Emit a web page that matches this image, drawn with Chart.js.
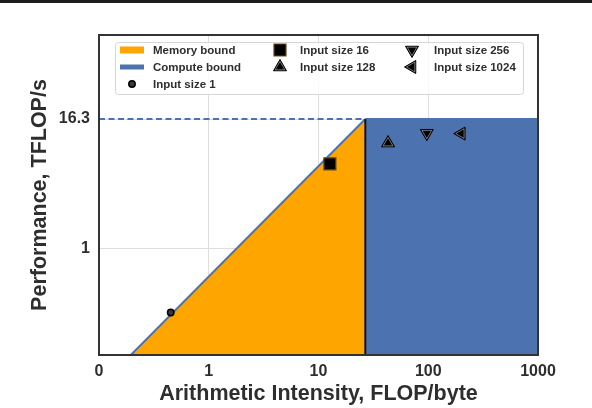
<!DOCTYPE html>
<html>
<head>
<meta charset="utf-8">
<script src="https://cdn.jsdelivr.net/npm/chart.js@4.4.1/dist/chart.umd.min.js"></script>
<style>
  html, body { margin: 0; padding: 0; background: #fff; }
  canvas { display: block; }
</style>
</head>
<body>
<canvas id="roofline" width="592" height="408"></canvas>
<script>
// ==========================
// DATA
// ==========================
const peakPerf = 16.3;                       // TFLOP/s
const ridgeIntensity = 26.7;                 // FLOP/byte
const memoryRoof = [[0.195, 0.1], [26.7, 16.3]];
const computeRoof = [[26.7, 16.3], [1000, 16.3]];
const peakDash = [[0.1, 16.3], [26.7, 16.3]];
const ridgeLine = [[26.7, 0.1], [26.7, 16.3]];

const inputLabels = ['Input size 1', 'Input size 16', 'Input size 128', 'Input size 256', 'Input size 1024'];
const inputIntensity = [0.45, 12.7, 43, 97, 200];
const inputPerf = [0.25, 6.2, 9.7, 12.0, 11.9];

const xTickValues = [0.1, 1, 10, 100, 1000];
const xTickLabels = ['0', '1', '10', '100', '1000'];
const yTickValues = [1, 16.3];
const yTickLabels = ['1', '16.3'];

// ==========================
// STYLES
// ==========================
const ORANGE = '#FFA500';
const BLUE = '#4C72B0';
const TEXT = '#2e2e2e';
const FONT = "'Liberation Sans', Arial, sans-serif";

// inner: thin light outline drawn inside the black marker (like the reference)
const markerStyles = [
    { pointStyle: 'circle',   radius: 3.2, rotation: 0,   bg: '#3a3a3a', border: '#000', bw: 1.5, inner: 0 },
    { pointStyle: 'rect',     radius: 8.5, rotation: 0,   bg: '#000',    border: '#6b4a12', bw: 1.2, inner: 0 },
    { pointStyle: 'triangle', radius: 7.5, rotation: 0,   bg: '#000',    border: '#000', bw: 1, inner: 5.6 },
    { pointStyle: 'triangle', radius: 7.5, rotation: 180, bg: '#000',    border: '#000', bw: 1, inner: 5.6 },
    { pointStyle: 'triangle', radius: 7.5, rotation: 270, bg: '#000',    border: '#000', bw: 1, inner: 5.6 }
];

const toXY = arr => arr.map(p => ({ x: p[0], y: p[1] }));

const datasets = [
    {
        label: 'Memory bound',
        data: toXY(memoryRoof),
        borderColor: BLUE, borderWidth: 2,
        backgroundColor: ORANGE, fill: 'start',
        pointRadius: 0, order: 10
    },
    {
        label: 'Compute bound',
        data: toXY(computeRoof),
        borderColor: BLUE, borderWidth: 2,
        backgroundColor: BLUE, fill: 'start',
        pointRadius: 0, order: 10
    },
    {
        label: 'peak',
        data: toXY(peakDash),
        borderColor: BLUE, borderWidth: 2, borderDash: [6, 3.5],
        fill: false, pointRadius: 0, order: 5
    },
    {
        label: 'ridge',
        data: toXY(ridgeLine),
        borderColor: '#111', borderWidth: 2,
        fill: false, pointRadius: 0, order: 5
    }
];

const firstMarkerDataset = datasets.length;
inputLabels.forEach((lab, i) => {
    const m = markerStyles[i];
    datasets.push({
        label: lab,
        data: [{ x: inputIntensity[i], y: inputPerf[i] }],
        showLine: false,
        pointStyle: m.pointStyle,
        pointRadius: m.radius,
        pointRotation: m.rotation,
        pointBackgroundColor: m.bg,
        pointBorderColor: m.border,
        pointBorderWidth: m.bw,
        order: 0
    });
});

function innerOutline(ctx, m, x, y) {
    if (!m.inner) return;
    ctx.save();
    ctx.fillStyle = '#000';
    ctx.strokeStyle = 'rgba(255,255,255,0.75)';
    ctx.lineWidth = 0.6;
    Chart.helpers.drawPoint(ctx, { pointStyle: m.pointStyle, radius: m.inner, rotation: m.rotation, borderWidth: 0.6 }, x, y);
    ctx.restore();
}

// ==========================
// LEGEND (3 columns)
// ==========================
const legendItems = [
    { label: 'Memory bound',   kind: 'patch', color: ORANGE, h: 7,  col: 0, row: 0 },
    { label: 'Compute bound',  kind: 'patch', color: BLUE,   h: 5,  col: 0, row: 1 },
    { label: inputLabels[0],   kind: 'mark',  m: 0, col: 0, row: 2 },
    { label: inputLabels[1],   kind: 'mark',  m: 1, col: 1, row: 0 },
    { label: inputLabels[2],   kind: 'mark',  m: 2, col: 1, row: 1 },
    { label: inputLabels[3],   kind: 'mark',  m: 3, col: 2, row: 0 },
    { label: inputLabels[4],   kind: 'mark',  m: 4, col: 2, row: 1 }
];
const legendCols = [{ mark: 132, text: 153 }, { mark: 280, text: 300 }, { mark: 412, text: 434 }];
const legendRows = [50, 67, 84];

const decoPlugin = {
    id: 'deco',
    beforeDraw(chart) {
        const ctx = chart.ctx;
        ctx.save();
        ctx.fillStyle = '#fff';
        ctx.fillRect(0, 0, chart.width, chart.height);
        ctx.fillStyle = '#1c1c1c';
        ctx.fillRect(0, 0, chart.width, 3);
        ctx.restore();
    },
    afterDatasetsDraw(chart) {
        const { ctx, chartArea: a } = chart;
        // inner outline of triangle markers
        inputLabels.forEach((lab, i) => {
            const pt = chart.getDatasetMeta(firstMarkerDataset + i).data[0];
            if (pt) innerOutline(ctx, markerStyles[i], pt.x, pt.y);
        });
        ctx.save();
        ctx.strokeStyle = '#333';
        ctx.lineWidth = 2;
        ctx.strokeRect(a.left, a.top, a.right - a.left, a.bottom - a.top);
        ctx.restore();
    },
    afterDraw(chart) {
        const ctx = chart.ctx;
        ctx.save();
        // box
        ctx.beginPath();
        ctx.roundRect(115.5, 42.5, 408, 52, 3);
        ctx.fillStyle = 'rgba(255,255,255,0.8)';
        ctx.fill();
        ctx.strokeStyle = '#d6d6d6';
        ctx.lineWidth = 1;
        ctx.stroke();

        ctx.font = 'bold 11.5px ' + FONT;
        ctx.textBaseline = 'middle';
        ctx.textAlign = 'left';
        legendItems.forEach(it => {
            const c = legendCols[it.col];
            const y = legendRows[it.row];
            if (it.kind === 'patch') {
                ctx.fillStyle = it.color;
                ctx.fillRect(120, y - it.h / 2, 24, it.h);
            } else {
                const m = markerStyles[it.m];
                ctx.fillStyle = m.bg;
                ctx.strokeStyle = m.border;
                ctx.lineWidth = m.bw;
                Chart.helpers.drawPoint(ctx, {
                    pointStyle: m.pointStyle,
                    radius: m.radius,
                    rotation: m.rotation,
                    borderWidth: m.bw
                }, c.mark, y);
                innerOutline(ctx, m, c.mark, y);
            }
            ctx.fillStyle = TEXT;
            ctx.fillText(it.label, it.kind === 'patch' ? 153 : c.text, y + 0.5);
        });
        ctx.restore();
    }
};

new Chart(document.getElementById('roofline'), {
    type: 'line',
    data: { datasets },
    options: {
        responsive: false,
        animation: false,
        layout: { padding: { left: 0, top: 35, right: 54, bottom: 0 } },
        plugins: {
            legend: { display: false },
            tooltip: { enabled: false }
        },
        scales: {
            x: {
                type: 'logarithmic',
                min: 0.1, max: 1000,
                afterBuildTicks: s => { s.ticks = xTickValues.map(v => ({ value: v })); },
                afterFit: s => { s.height = 53; },
                ticks: {
                    autoSkip: false, maxRotation: 0, padding: 7,
                    color: TEXT,
                    font: { family: FONT, size: 16, weight: 'bold' },
                    callback: (v, i) => xTickLabels[i]
                },
                grid: { color: '#dedede', lineWidth: 1, drawTicks: false },
                border: { display: false },
                title: {
                    display: true,
                    text: 'Arithmetic Intensity, FLOP/byte',
                    color: TEXT,
                    font: { family: FONT, size: 21.5, weight: 'bold' },
                    padding: { top: 0, bottom: 1 }
                }
            },
            y: {
                type: 'logarithmic',
                min: 0.1, max: 100,
                afterBuildTicks: s => { s.ticks = yTickValues.map(v => ({ value: v })); },
                afterFit: s => { s.width = 99; },
                ticks: {
                    autoSkip: false, padding: 9,
                    color: TEXT,
                    font: { family: FONT, size: 16, weight: 'bold' },
                    callback: (v, i) => yTickLabels[i]
                },
                grid: { color: '#dedede', lineWidth: 1, drawTicks: false },
                border: { display: false },
                title: {
                    display: true,
                    text: 'Performance, TFLOP/s',
                    color: TEXT,
                    font: { family: FONT, size: 21.5, weight: 'bold' },
                    padding: { top: 27, bottom: 0 }
                }
            }
        }
    },
    plugins: [decoPlugin]
});
</script>
</body>
</html>
